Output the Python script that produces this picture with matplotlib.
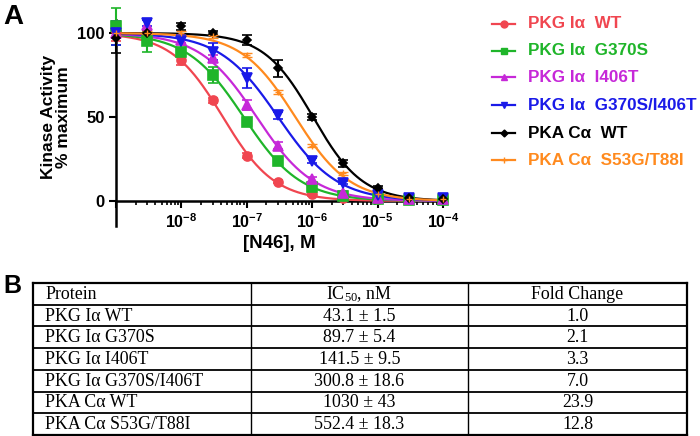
import numpy as np
import matplotlib
matplotlib.use("Agg")
import matplotlib.pyplot as plt
from matplotlib.lines import Line2D
from matplotlib.ticker import LogLocator, NullFormatter, FixedLocator

plt.rcParams['font.family'] = ['Liberation Sans', 'DejaVu Sans']
plt.rcParams['mathtext.fontset'] = 'custom'
plt.rcParams['mathtext.bf'] = 'Liberation Sans:bold'
plt.rcParams['mathtext.rm'] = 'Liberation Serif'
plt.rcParams['mathtext.it'] = 'Liberation Serif:italic'

# ---------------- data ----------------
conc = [1e-9, 3e-9, 1e-8, 3e-8, 1e-7, 3e-7, 1e-6, 3e-6, 1e-5, 3e-5, 1e-4]

labels = ["PKG Iα  WT", "PKG Iα  G370S", "PKG Iα  I406T",
          "PKG Iα  G370S/I406T", "PKA Cα  WT", "PKA Cα  S53G/T88I"]
colors = ["#f04650", "#1fb52a", "#c628d8", "#1a1ae8", "#000000", "#ff8a1e"]
markers = ["o", "s", "^", "v", "D", "+"]

act_wt      = [101, 97, 84, 60, 27, 11.5, 4, 2, 1, 1, 2]
act_g370s   = [104, 95, 89, 75, 47, 24, 8.5, 3, 1, 0.5, 0.5]
act_i406t   = [100, 105, 96, 85, 57, 33, 13, 5, 2, 1, 1]
act_double  = [100, 106, 95, 89, 73, 51, 24, 11, 3.5, 2, 2]
act_pka_wt  = [97, 100, 104, 100, 96, 79, 50, 22.5, 8, 2, 1]
act_pka_mut = [100, 100, 100, 98, 87, 65, 33, 16.5, 4, 1, 1]

err_wt      = [6, 4, 3, 1.5, 1.5, 1, 1, 1, 1, 1, 1.5]
err_g370s   = [11, 6, 2, 5, 2, 1.5, 2, 1, 1, 1, 1]
err_i406t   = [3, 3, 2, 2, 3, 2, 1.5, 1, 1, 1, 1]
err_double  = [7, 2, 4, 5, 6, 2, 1.5, 1, 1, 1, 1]
err_pka_wt  = [9, 2, 2, 1, 3, 5, 2, 2, 1, 1, 1]
err_pka_mut = [1, 1, 1, 1, 1, 1, 1, 1, 1, 1, 1]

activities = [act_wt, act_g370s, act_i406t, act_double, act_pka_wt, act_pka_mut]
errors = [err_wt, err_g370s, err_i406t, err_double, err_pka_wt, err_pka_mut]

# fitted parameters (IC50 in nM from table, Hill slope estimated)
ic50_nM = [43.1, 89.7, 141.5, 300.8, 1030, 552.4]
hill = [1.1, 1.0, 1.0, 0.97, 1.15, 1.05]

# table
table_header = ["Protein", "IC$_{50}$, nM", "Fold Change"]
table_protein = ["PKG Iα WT", "PKG Iα G370S", "PKG Iα I406T",
                 "PKG Iα G370S/I406T", "PKA Cα WT", "PKA Cα S53G/T88I"]
table_ic50 = ["43.1 ± 1.5", "89.7 ± 5.4", "141.5 ± 9.5",
              "300.8 ± 18.6", "1030 ± 43", "552.4 ± 18.3"]
table_fold = ["1.0", "2.1", "3.3", "7.0", "23.9", "12.8"]

# ---------------- figure ----------------
W, H = 700, 436
fig = plt.figure(figsize=(W / 100, H / 100), dpi=100)

def fx(px):
    return px / W

def fy(py):
    return 1 - py / H

ax_left, ax_right = 116, 443
ax_top, ax_bot = 19.6, 226.2
ax = fig.add_axes([fx(ax_left), fy(ax_bot), (ax_right - ax_left) / W, (ax_bot - ax_top) / H])
ax.set_xscale('log')
ax.set_xlim(1e-9, 1e-4)
ax.set_ylim(-15, 108)

xs = np.logspace(-9, -4, 400)
for act, err, ic, h, c, m in zip(activities, errors, ic50_nM, hill, colors, markers):
    top = 100.0
    curve = top / (1 + (xs / (ic * 1e-9)) ** h)
    ax.plot(xs, curve, color=c, lw=1.6, zorder=3, clip_on=False)
    ms = 6.5
    mew = 1.2
    if m == "D":
        ms = 4
    if m == "+":
        ms = 5
        mew = 1.0
    ax.errorbar(conc, act, yerr=err, fmt=m, color=c, ms=ms, mew=mew,
                elinewidth=1.5, capsize=3.5, capthick=1.5, zorder=4, clip_on=False)

for s in ['top', 'right']:
    ax.spines[s].set_visible(False)
ax.spines['bottom'].set_position(('data', 0))
ax.spines['left'].set_linewidth(1.8)
ax.spines['bottom'].set_linewidth(1.8)
ax.spines['bottom'].set_zorder(2)

ax.set_yticks([0, 50, 100])
ax.set_yticklabels(['0', '50', '100'], fontsize=12, fontweight='bold')
ax.xaxis.set_major_locator(FixedLocator([1e-9, 1e-8, 1e-7, 1e-6, 1e-5, 1e-4]))
ax.set_xticklabels(['', r'$\mathbf{10^{-8}}$', r'$\mathbf{10^{-7}}$', r'$\mathbf{10^{-6}}$',
                    r'$\mathbf{10^{-5}}$', r'$\mathbf{10^{-4}}$'], fontsize=11.5)
ax.xaxis.set_minor_locator(LogLocator(base=10, subs=np.arange(2, 10), numticks=20))
ax.xaxis.set_minor_formatter(NullFormatter())
ax.tick_params(axis='both', which='major', length=5, width=1.5, direction='out', pad=3)
ax.tick_params(axis='x', which='minor', length=3, width=1.2, direction='out')

ax.set_xlabel("[N46], M", fontsize=13.5, fontweight='bold', labelpad=3)
fig.text(fx(56), fy(117), "Kinase Activity\n% maximum", rotation=90, ha='center',
         va='center', fontsize=12.5, fontweight='bold', multialignment='center',
         linespacing=1.05)

# legend (manual, figure pixel coordinates)
leg_y = [24, 50.5, 77.5, 105, 133, 160]
for lab, c, m, y in zip(labels, colors, markers, leg_y):
    fig.add_artist(Line2D([fx(492), fx(515)], [fy(y), fy(y)], color=c, lw=1.6,
                          transform=fig.transFigure))
    ms = 5 if m != "D" else 3.5
    fig.add_artist(Line2D([fx(503.5)], [fy(y)], color=c, marker=m, ms=ms, mew=1.0,
                          transform=fig.transFigure))
    fig.text(fx(528), fy(y), lab, color=c, fontsize=12.3, fontweight='bold',
             ha='left', va='center')

# panel letters
fig.text(fx(3), fy(17.5), "A", fontsize=20, fontweight='bold', ha='left', va='center')
fig.text(fx(3), fy(286), "B", fontsize=18, fontweight='bold', ha='left', va='center')

# ---------------- table ----------------
t_left, t_right, t_top, t_bot = 33, 687, 283, 435
col_x = [33, 251, 468, 687]
nrows = 7
row_h = (t_bot - t_top) / nrows
tax = fig.add_axes([0, 0, 1, 1])
tax.set_xlim(0, W)
tax.set_ylim(H, 0)
tax.axis('off')
for i in range(nrows + 1):
    y = t_top + i * row_h
    lw = 1.6 if i in (0, nrows) else 1.3
    tax.plot([t_left, t_right], [y, y], color='black', lw=lw, clip_on=False,
             solid_capstyle='projecting')
for j, x in enumerate(col_x):
    lw = 1.6 if j in (0, 3) else 1.0
    tax.plot([x, x], [t_top, t_bot], color='black', lw=lw, clip_on=False)

rows = [table_header] + [[p, ic, f] for p, ic, f in zip(table_protein, table_ic50, table_fold)]
serif = ['Liberation Serif', 'DejaVu Serif']
for i, row in enumerate(rows):
    yc = t_top + (i + 0.5) * row_h + 0.5
    tax.text(45, yc, row[0], ha='left', va='center', fontsize=12.9, family=serif)
    tax.text((col_x[1] + col_x[2]) / 2, yc, row[1], ha='center', va='center',
             fontsize=12.9, family=serif)
    tax.text((col_x[2] + col_x[3]) / 2, yc, row[2], ha='center', va='center',
             fontsize=12.9, family=serif)

fig.savefig("out.png", dpi=100)
